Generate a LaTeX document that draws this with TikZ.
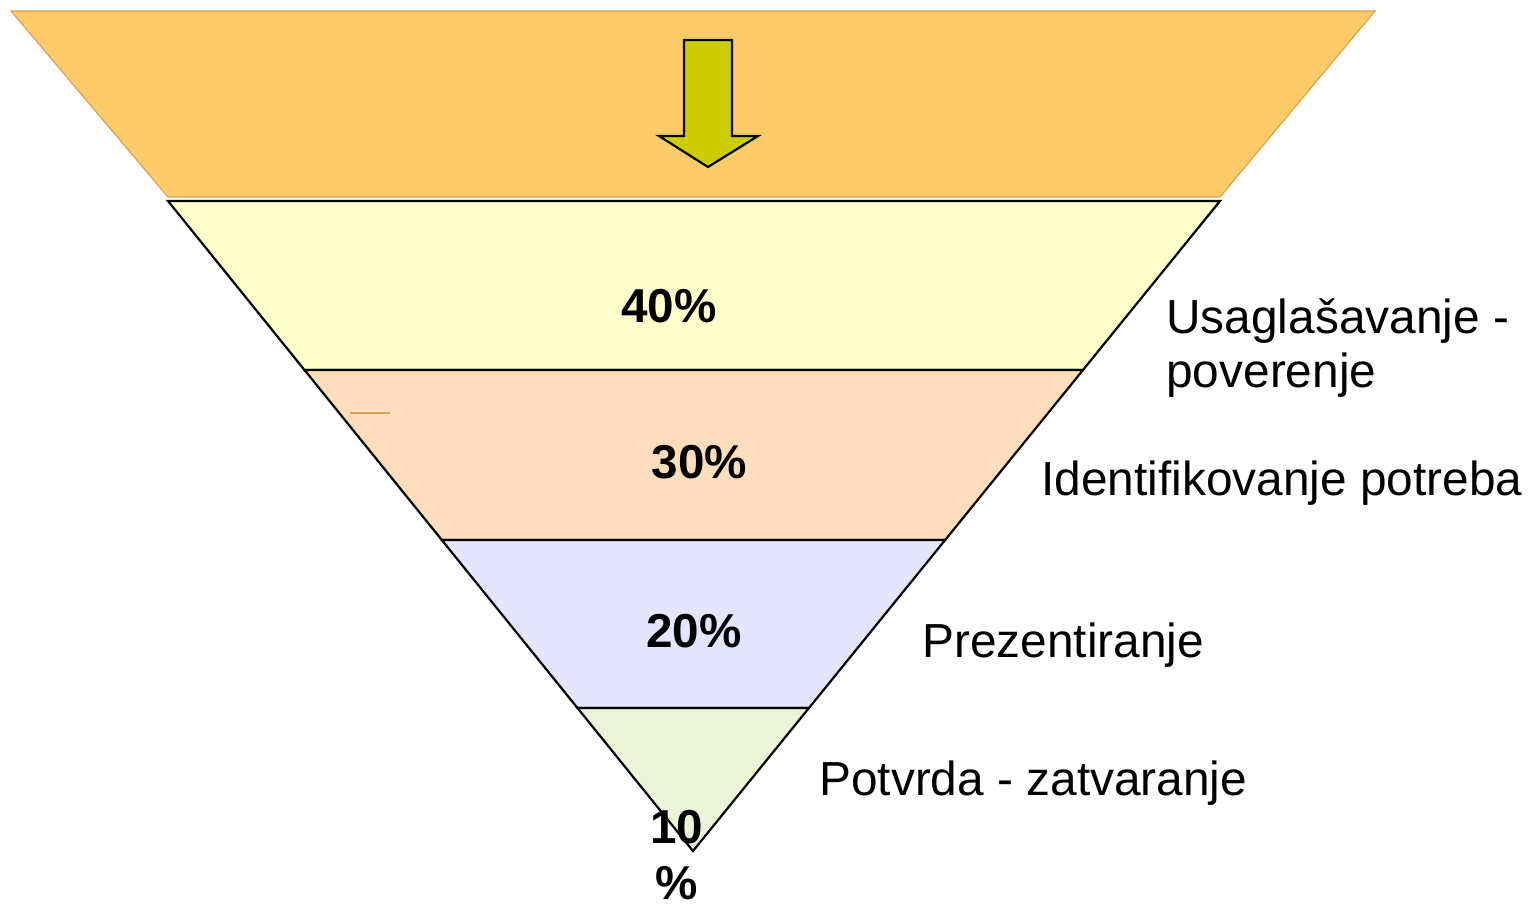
\documentclass[tikz,border=0pt]{standalone}
\usepackage{fontspec}
\setmainfont{Liberation Sans}
\usepackage{tikz}
\usetikzlibrary{calc}
\definecolor{funnelorange}{RGB}{254,203,105}
\definecolor{funneledge}{RGB}{214,164,86}
\definecolor{arrowolive}{RGB}{204,204,0}
\definecolor{bandyellow}{RGB}{255,255,204}
\definecolor{bandpeach}{RGB}{255,222,189}
\definecolor{bandlilac}{RGB}{229,229,255}
\definecolor{bandgreen}{RGB}{235,243,216}
\begin{document}
\begin{tikzpicture}[x=0.5pt,y=-0.5pt,
every node/.style={inner sep=0pt},
pct/.style={font=\fontsize{23.8}{28}\bfseries\selectfont, align=center, anchor=base},
stage/.style={font=\fontsize{23.9}{27}\selectfont, align=left, anchor=base west},
band/.style={draw=black, line width=1.1pt, line join=miter}]
\useasboundingbox (0,0) rectangle (1528,905);

%top of the funnel with the arrow
\filldraw[fill=funnelorange, draw=funneledge, line width=0.6pt] (11,11) -- (1375,11) -- (1220,197) -- (168,197) -- cycle;
\filldraw[fill=arrowolive, draw=black, line width=1.1pt] (684,40) -- (732,40) -- (732,136) -- (758,136) -- (708,167) -- (659,136) -- (684,136) -- cycle;

%corners of the funnel
\coordinate (tl) at (168,201);
\coordinate (tr) at (1220,201);
\coordinate (tip) at (693,851);

%bands: upper edge / lower edge / colour
\foreach \ya/\yb/\col in {201/370/bandyellow, 370/540/bandpeach, 540/708/bandlilac, 708/851/bandgreen}{
	\pgfmathsetmacro\fa{(\ya-201)/650}
	\pgfmathsetmacro\fb{(\yb-201)/650}
	\filldraw[band, fill=\col] ($(tl)!\fa!(tip)$) -- ($(tr)!\fa!(tip)$) -- ($(tr)!\fb!(tip)$) -- ($(tl)!\fb!(tip)$) -- cycle;
}
\draw[funneledge, line width=1pt] (350,413) -- (390,413);

%percentages
\node[pct] (p40) at (669,322) {40\%};
\node[pct] (p30) at (699.5,478) {30\%};
\node[pct] (p20) at (694,647) {20\%};
%the last base line is the one of the node
\node[pct] (p10) at (677,899) {10\\\%};

%stages
\node[stage] (s1) at (1166,387) {Usaglašavanje -\\poverenje};
\node[stage] (s2) at (1041,495) {Identifikovanje potreba};
\node[stage] (s3) at (922,657) {Prezentiranje};
\node[stage] (s4) at (819,795) {Potvrda - zatvaranje};
\end{tikzpicture}
\end{document}
